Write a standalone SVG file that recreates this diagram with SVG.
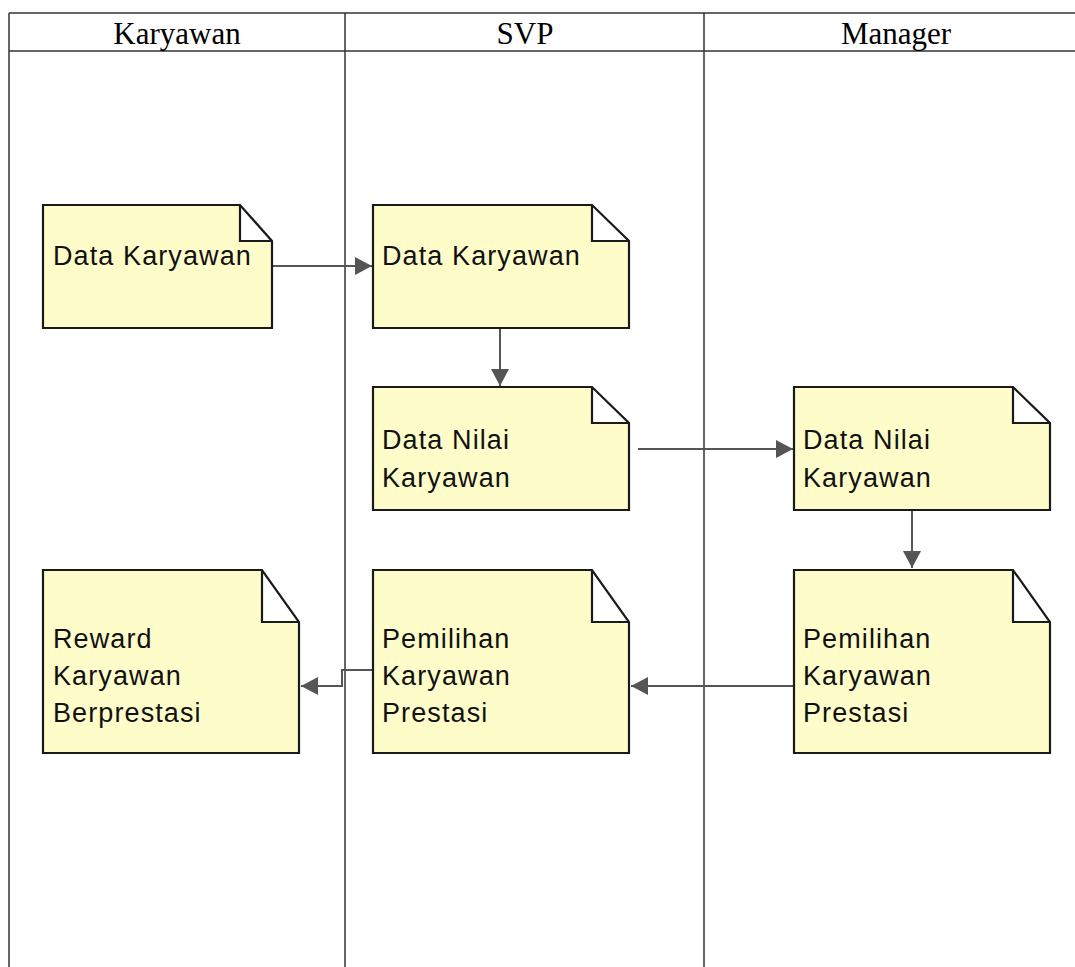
<svg xmlns="http://www.w3.org/2000/svg" width="1075" height="967" viewBox="0 0 1075 967">
<style>
.lane{stroke:#333;stroke-width:1.5;fill:none}
.hdr{font-family:"Liberation Serif","Times New Roman",serif;font-size:31px;fill:#000;text-anchor:middle}
.note{fill:#fefdca;stroke:#1a1a1a;stroke-width:2.2;stroke-linejoin:miter}
.lbl{font-family:"Liberation Sans",Arial,sans-serif;font-size:27px;letter-spacing:1.1px;fill:#111}
.con{stroke:#555;stroke-width:2;fill:none}
</style>
<defs>
<marker id="arr" markerWidth="18" markerHeight="18" refX="17" refY="9" orient="auto" markerUnits="userSpaceOnUse">
<path d="M0,0 L17,9 L0,18 Z" fill="#555"/>
</marker>
</defs>
<rect width="1075" height="967" fill="#fff"/>
<g id="lanes">
<line class="lane" x1="9" y1="13" x2="1075" y2="13"/>
<line class="lane" x1="9" y1="51" x2="1075" y2="51"/>
<line class="lane" x1="9" y1="13" x2="9" y2="967"/>
<line class="lane" x1="345" y1="13" x2="345" y2="967"/>
<line class="lane" x1="704" y1="13" x2="704" y2="967"/>
<text class="hdr" x="177" y="44">Karyawan</text>
<text class="hdr" x="525" y="44">SVP</text>
<text class="hdr" x="896" y="44">Manager</text>
</g>
<g id="connectors">
<line class="con" x1="273" y1="266" x2="372" y2="266" marker-end="url(#arr)"/>
<line class="con" x1="500" y1="329" x2="500" y2="386" marker-end="url(#arr)"/>
<line class="con" x1="638" y1="449" x2="793" y2="449" marker-end="url(#arr)"/>
<line class="con" x1="912" y1="511" x2="912" y2="568" marker-end="url(#arr)"/>
<line class="con" x1="794" y1="686" x2="631" y2="686" marker-end="url(#arr)"/>
<polyline class="con" points="373,670 342,670 342,686 301,686" marker-end="url(#arr)"/>
</g>
<g id="n1">
<path class="note" d="M43,205 H240 L272,241 V328 H43 Z M240,205 V241 H272"/>
<text class="lbl" x="53" y="265">Data Karyawan</text>
</g>
<g id="n2">
<path class="note" d="M373,205 H592 L629,241 V328 H373 Z M592,205 V241 H629"/>
<text class="lbl" x="382" y="265">Data Karyawan</text>
</g>
<g id="n3">
<path class="note" d="M373,387 H592 L629,423 V510 H373 Z M592,387 V423 H629"/>
<text class="lbl" x="382" y="449">Data Nilai</text>
<text class="lbl" x="382" y="487">Karyawan</text>
</g>
<g id="n4">
<path class="note" d="M794,387 H1013 L1050,423 V510 H794 Z M1013,387 V423 H1050"/>
<text class="lbl" x="803" y="449">Data Nilai</text>
<text class="lbl" x="803" y="487">Karyawan</text>
</g>
<g id="n5">
<path class="note" d="M43,570 H262 L299,622 V753 H43 Z M262,570 V622 H299"/>
<text class="lbl" x="53" y="648">Reward</text>
<text class="lbl" x="53" y="685">Karyawan</text>
<text class="lbl" x="53" y="722">Berprestasi</text>
</g>
<g id="n6">
<path class="note" d="M373,570 H592 L629,622 V753 H373 Z M592,570 V622 H629"/>
<text class="lbl" x="382" y="648">Pemilihan</text>
<text class="lbl" x="382" y="685">Karyawan</text>
<text class="lbl" x="382" y="722">Prestasi</text>
</g>
<g id="n7">
<path class="note" d="M794,570 H1013 L1050,622 V753 H794 Z M1013,570 V622 H1050"/>
<text class="lbl" x="803" y="648">Pemilihan</text>
<text class="lbl" x="803" y="685">Karyawan</text>
<text class="lbl" x="803" y="722">Prestasi</text>
</g>
</svg>
